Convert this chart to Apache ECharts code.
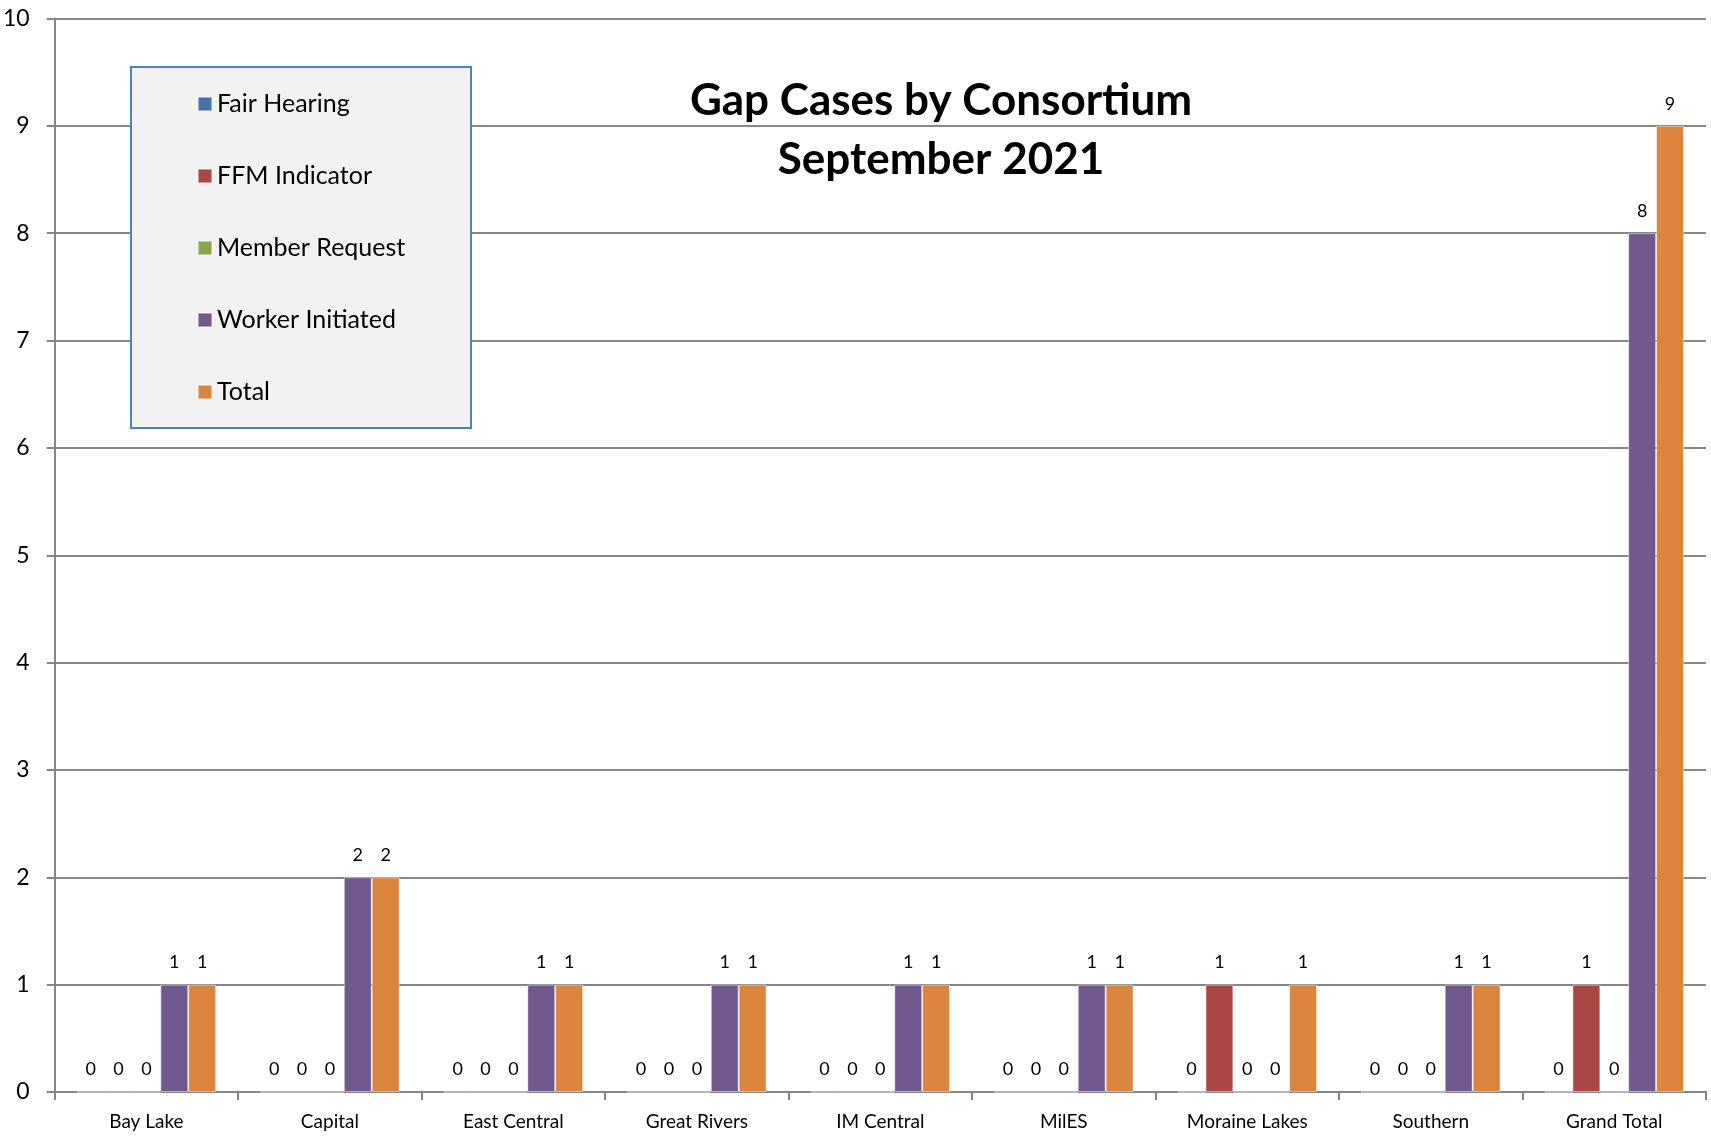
<!DOCTYPE html>
<html>
<head>
<meta charset="utf-8">
<script src="https://cdn.jsdelivr.net/npm/echarts@6/dist/echarts.min.js"></script>
<style>
html,body{margin:0;padding:0;background:#fff;}
#chart{width:1711px;height:1144px;}
</style>
</head>
<body>
<div id="chart"></div>
<script>
const categories = ['Bay Lake', 'Capital', 'East Central', 'Great Rivers', 'IM Central', 'MilES', 'Moraine Lakes', 'Southern', 'Grand Total'];
const fairHearing = [0, 0, 0, 0, 0, 0, 0, 0, 0];
const ffmIndicator = [0, 0, 0, 0, 0, 0, 1, 0, 1];
const memberRequest = [0, 0, 0, 0, 0, 0, 0, 0, 0];
const workerInitiated = [1, 2, 1, 1, 1, 1, 0, 1, 8];
const total = [1, 2, 1, 1, 1, 1, 1, 1, 9];
const seriesNames = ['Fair Hearing', 'FFM Indicator', 'Member Request', 'Worker Initiated', 'Total'];
const seriesColors = ['#4572A7', '#AA4643', '#89A54E', '#71588F', '#DB843D'];
const titleLines = ['Gap Cases by Consortium', 'September 2021'];

const FONT = 'Lato, "Open Sans", sans-serif';
const seriesData = [fairHearing, ffmIndicator, memberRequest, workerInitiated, total];

const chart = echarts.init(document.getElementById('chart'));
chart.setOption({
  animation: false,
  backgroundColor: '#fff',
  textStyle: { fontFamily: FONT },
  grid: { left: 54, right: 5, top: 18.5, bottom: 52, containLabel: false },
  graphic: [
    {
      type: 'rect', z: 3,
      shape: { x: 131, y: 67, width: 340, height: 361 },
      style: { fill: '#F2F2F2', stroke: '#4F81BD', lineWidth: 2 }
    },
    {
      type: 'text', z: 5, x: 941, y: 101,
      style: { text: titleLines[0], textAlign: 'center', textVerticalAlign: 'middle',
               font: 'bold 44px ' + FONT, fill: '#000' }
    },
    {
      type: 'text', z: 5, x: 941, y: 160,
      style: { text: titleLines[1], textAlign: 'center', textVerticalAlign: 'middle',
               font: 'bold 44px ' + FONT, fill: '#000' }
    }
  ],
  legend: {
    orient: 'vertical',
    left: 192, top: 86,
    padding: 5,
    itemWidth: 14, itemHeight: 14, itemGap: 46,
    icon: 'rect',
    data: seriesNames,
    textStyle: { fontSize: 25, lineHeight: 26, color: '#000', fontFamily: FONT },
    z: 6
  },
  xAxis: {
    type: 'category',
    data: categories,
    axisLine: { lineStyle: { color: '#868686', width: 2 } },
    axisTick: { show: true, length: 8, lineStyle: { color: '#868686', width: 2 } },
    axisLabel: { color: '#000', fontSize: 19, margin: 20, fontFamily: FONT },
    splitLine: { show: false }
  },
  yAxis: {
    type: 'value', min: 0, max: 10, interval: 1,
    axisLine: { show: true, lineStyle: { color: '#868686', width: 2 } },
    axisTick: { show: true, length: 8, lineStyle: { color: '#868686', width: 2 } },
    axisLabel: { color: '#000', fontSize: 23, margin: 25, fontFamily: FONT },
    splitLine: { show: true, lineStyle: { color: '#868686', width: 2 } }
  },
  series: seriesNames.map((name, i) => ({
    name: name,
    type: 'bar',
    data: seriesData[i],
    barGap: '0%',
    barCategoryGap: '24%',
    itemStyle: { color: seriesColors[i], borderColor: 'rgba(255,255,255,0.45)', borderWidth: 1 },
    label: { show: true, position: 'top', distance: 13, color: '#000', fontSize: 18, fontFamily: FONT }
  }))
});
</script>
</body>
</html>
